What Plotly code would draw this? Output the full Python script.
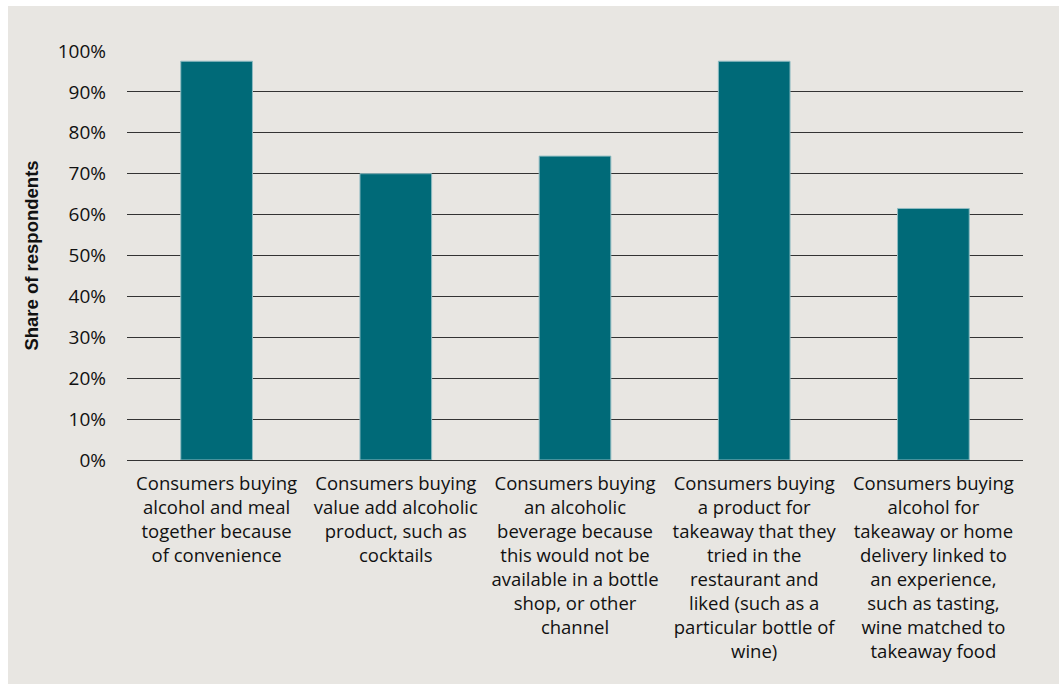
import plotly.graph_objects as go

# Survey categories (line breaks as shown under each bar)
categories = [
    "Consumers buying<br>alcohol and meal<br>together because<br>of convenience",
    "Consumers buying<br>value add alcoholic<br>product, such as<br>cocktails",
    "Consumers buying<br>an alcoholic<br>beverage because<br>this would not be<br>available in a bottle<br>shop, or other<br>channel",
    "Consumers buying<br>a product for<br>takeaway that they<br>tried in the<br>restaurant and<br>liked (such as a<br>particular bottle of<br>wine)",
    "Consumers buying<br>alcohol for<br>takeaway or home<br>delivery linked to<br>an experience,<br>such as tasting,<br>wine matched to<br>takeaway food",
]
share = [97.5, 70.0, 74.3, 97.5, 61.5]

tick_vals = [0, 10, 20, 30, 40, 50, 60, 70, 80, 90, 100]
tick_text = [f"{v}%" for v in tick_vals]

BG = "#e8e6e2"
BAR = "#006a78"
FONT = "Open Sans, Liberation Sans, Arial, sans-serif"

fig = go.Figure(
    go.Bar(
        x=categories,
        y=share,
        marker=dict(color=BAR, line=dict(color="#8fbcc2", width=1)),
        hoverinfo="skip",
    )
)

fig.update_layout(
    width=1059,
    height=684,
    margin=dict(l=127, r=36, t=51, b=224),
    paper_bgcolor=BG,
    plot_bgcolor=BG,
    bargap=0.6,
    showlegend=False,
    font=dict(family=FONT, size=18, color="#111111"),
    xaxis=dict(
        showgrid=False,
        showline=False,
        ticks="",
        tickfont=dict(size=18.5),
        ticklabelstandoff=10,
    ),
    yaxis=dict(
        range=[0, 100],
        tickvals=tick_vals,
        ticktext=tick_text,
        showgrid=True,
        gridcolor="#333333",
        gridwidth=1,
        zeroline=True,
        zerolinecolor="#333333",
        zerolinewidth=1,
        showline=False,
        ticks="",
        ticklabelstandoff=20,
        tickfont=dict(size=19),
        title=dict(
            text="<b>Share of respondents</b>",
            font=dict(size=18.5, family="Liberation Sans, Arial, sans-serif"),
            standoff=14,
        ),
    ),
    shapes=[
        # white frame strips along the top and left edges
        dict(type="rect", xref="paper", yref="paper",
             x0=-127 / 896, x1=1.1, y0=1 + 45 / 409, y1=1 + 60 / 409,
             fillcolor="white", line=dict(width=0), layer="below"),
        dict(type="rect", xref="paper", yref="paper",
             x0=-0.2, x1=-119 / 896, y0=-1, y1=1.2,
             fillcolor="white", line=dict(width=0), layer="below"),
    ],
)

fig.write_html("out.html")
